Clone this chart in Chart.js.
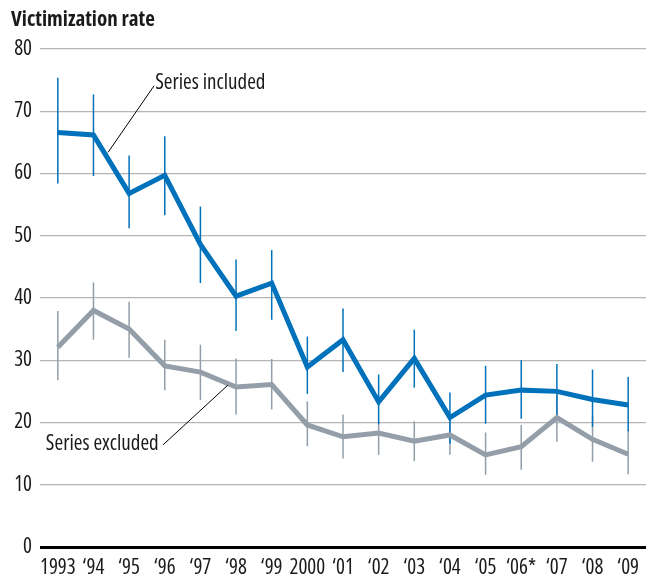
<!DOCTYPE html>
<html lang="en">
  <head>
    <meta charset="utf-8">
    <title>Victimization rate</title>
    <script src="https://cdn.jsdelivr.net/npm/chart.js@4.4.0/dist/chart.umd.min.js"></script>
    <style>
      body { margin: 0; background: #fff; }
      #wrap { width: 646px; height: 574px; }
    </style>
  </head>
  <body>
    <div id="wrap"><canvas id="chart" width="646" height="574"></canvas></div>
    <script>
      const years = ['1993', '\u201894', '\u201895', '\u201896', '\u201897', '\u201898', '\u201899', '2000', '\u201801',
                     '\u201802', '\u201803', '\u201804', '\u201805', '\u201806*', '\u201807', '\u201808', '\u201809'];

      const included     = [66.6, 66.2, 56.8, 59.7, 48.6, 40.3, 42.4, 28.9, 33.3, 23.3, 30.3, 20.8, 24.4, 25.2, 25.0, 23.7, 22.8];
      const includedHigh = [75.4, 72.7, 62.9, 66.0, 54.7, 46.2, 47.7, 33.8, 38.3, 27.7, 34.9, 24.8, 29.1, 30.0, 29.4, 28.5, 27.3];
      const includedLow  = [58.4, 59.6, 51.2, 53.3, 42.4, 34.7, 36.5, 24.6, 28.1, 19.7, 25.6, 16.6, 19.8, 20.6, 20.8, 19.3, 18.6];

      const excluded     = [32.1, 38.0, 35.0, 29.1, 28.1, 25.7, 26.1, 19.6, 17.7, 18.3, 17.0, 18.0, 14.8, 16.1, 20.8, 17.3, 14.9];
      const excludedHigh = [37.9, 42.5, 39.4, 33.3, 32.5, 30.3, 30.2, 23.4, 21.3, 20.1, 20.2, 20.6, 18.4, 19.6, 24.5, 21.0, 18.8];
      const excludedLow  = [26.8, 33.3, 30.4, 25.2, 23.6, 21.3, 22.1, 16.2, 14.2, 14.8, 13.8, 14.8, 11.6, 12.4, 16.9, 13.7, 11.7];

      const yTicks = [0, 10, 20, 30, 40, 50, 60, 70, 80];

      const BLUE = '#0071bb';
      const GREY = '#939ea9';
      // Open Sans has a condensed width; it is asked for through the font shorthand
      const FONT = "'Open Sans', 'Roboto Condensed', sans-serif";

      // error bars, drawn under the lines
      const errorBars = {
        id: 'errorBars',
        beforeDatasetsDraw(chart) {
          const { ctx, scales: { x, y } } = chart;
          const sets = [
            [excludedLow, excludedHigh, GREY],
            [includedLow, includedHigh, BLUE]
          ];
          ctx.save();
          ctx.lineWidth = 1.5;
          sets.forEach(([lo, hi, col]) => {
            ctx.strokeStyle = col;
            lo.forEach((v, i) => {
              const px = x.getPixelForValue(i);
              ctx.beginPath();
              ctx.moveTo(px, y.getPixelForValue(v));
              ctx.lineTo(px, y.getPixelForValue(hi[i]));
              ctx.stroke();
            });
          });
          ctx.restore();
        }
      };

      // title + series labels with leader lines
      const labels = {
        id: 'labels',
        afterDraw(chart) {
          const { ctx, scales: { x, y } } = chart;
          ctx.save();
          ctx.fillStyle = '#1a1a1a';
          ctx.font = "bold condensed 21px " + FONT;
          ctx.textBaseline = 'middle';
          ctx.textAlign = 'left';
          ctx.fillText('Victimization rate', 11, 20);

          ctx.strokeStyle = '#000';
          ctx.lineWidth = 1;
          ctx.beginPath();
          ctx.moveTo(x.getPixelForValue(2.70), y.getPixelForValue(74.1));
          ctx.lineTo(x.getPixelForValue(1.41), y.getPixelForValue(63.4));
          ctx.moveTo(x.getPixelForValue(2.95), y.getPixelForValue(16.4));
          ctx.lineTo(x.getPixelForValue(4.77), y.getPixelForValue(26.0));
          ctx.stroke();

          ctx.font = "condensed 21px " + FONT;
          ctx.fillText('Series included', x.getPixelForValue(2.73), y.getPixelForValue(74.6));
          ctx.textAlign = 'right';
          ctx.fillText('Series excluded', x.getPixelForValue(2.83), y.getPixelForValue(16.6));
          ctx.restore();
        }
      };

      new Chart(document.getElementById('chart'), {
        type: 'line',
        data: {
          labels: years,
          datasets: [
            {
              label: 'Series excluded',
              data: excluded,
              borderColor: GREY,
              borderWidth: 5,
              borderJoinStyle: 'miter',
              pointRadius: 0,
              tension: 0,
              fill: false
            },
            {
              label: 'Series included',
              data: included,
              borderColor: BLUE,
              borderWidth: 5,
              borderJoinStyle: 'miter',
              pointRadius: 0,
              tension: 0,
              fill: false
            }
          ]
        },
        options: {
          responsive: false,
          animation: false,
          events: [],
          layout: { padding: { left: 10, right: 0, top: 49, bottom: 0 } },
          plugins: {
            legend: { display: false },
            tooltip: { enabled: false },
            title: { display: false }
          },
          scales: {
            x: {
              offset: true,
              grid: { display: false },
              border: { display: false },
              ticks: {
                color: '#1a1a1a',
                font: { family: FONT, size: 21, weight: 'condensed' },
                padding: 0,
                autoSkip: false,
                maxRotation: 0
              },
              afterFit(scale) { scale.height = 27; }
            },
            y: {
              min: 0,
              max: 80,
              afterBuildTicks(scale) { scale.ticks = yTicks.map(v => ({ value: v })); },
              grid: {
                drawTicks: false,
                color: ctx => ctx.tick && ctx.tick.value === 0 ? '#000' : '#b5b5b5',
                lineWidth: ctx => ctx.tick && ctx.tick.value === 0 ? 3 : 1.2
              },
              border: { display: false },
              ticks: {
                color: '#1a1a1a',
                font: { family: FONT, size: 21, weight: 'condensed' },
                padding: 8
              },
              afterFit(scale) { scale.width = 30; }
            }
          }
        },
        plugins: [errorBars, labels]
      });
    </script>
  </body>
</html>
